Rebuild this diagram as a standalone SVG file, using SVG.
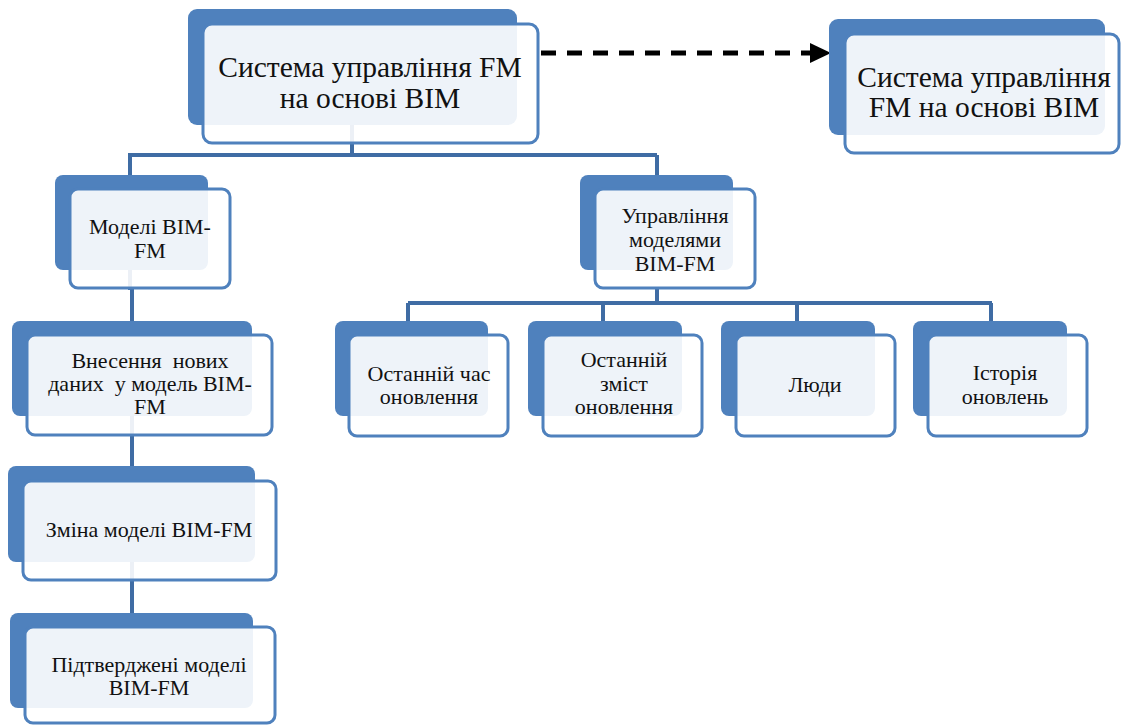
<svg xmlns="http://www.w3.org/2000/svg" width="1121" height="726" viewBox="0 0 1121 726" font-family="'Liberation Serif', 'Times New Roman', serif">
<defs>
<style>
.bk{fill:#4f81bd}
.fr{fill:#ffffff;fill-opacity:0.9;stroke:#4f81bd;stroke-width:3}
.ln{stroke:#3f6ca4;stroke-width:4;fill:none}
.t{fill:#111;text-anchor:middle;white-space:pre}
.big{font-size:29.5px}
.sm{font-size:22px}
</style>
</defs>
<rect width="1121" height="726" fill="#fff"/>
<g id="connectors">
<path class="ln" d="M352,125 V155 M128,155 H657 M130,155 V290 M657,155 V180 M132,288 V615 M657,288 V303 M408,303 H992 M408,303 V322 M603,303 V322 M797,303 V322 M991,303 V322"/>
<path d="M541,53 H812" stroke="#000" stroke-width="5" stroke-dasharray="15,11" fill="none"/>
<path d="M810,43 L831,53 L810,63 z" fill="#000"/>
</g>
<g id="n-main">
<rect class="bk" x="188" y="9" width="329" height="116" rx="9"/>
<rect class="fr" x="203" y="24" width="335" height="119" rx="9"/>
<text class="t big" x="370" y="77">Система управління FM</text>
<text class="t big" x="370" y="108">на основі BIM</text>
</g>
<g id="n-right">
<rect class="bk" x="829" y="19" width="276" height="116" rx="9"/>
<rect class="fr" x="845" y="34" width="274" height="119" rx="9"/>
<text class="t big" x="984" y="87">Система управління</text>
<text class="t big" x="984" y="117">FM на основі BIM</text>
</g>
<g id="n-models">
<rect class="bk" x="55" y="175" width="153" height="95" rx="8"/>
<rect class="fr" x="70" y="189" width="160" height="99" rx="8"/>
<text class="t sm" x="150" y="234">Моделі BIM-</text>
<text class="t sm" x="150" y="258">FM</text>
</g>
<g id="n-manage">
<rect class="bk" x="580" y="175" width="153" height="95" rx="8"/>
<rect class="fr" x="595" y="189" width="160" height="99" rx="8"/>
<text class="t sm" x="675" y="223">Управління</text>
<text class="t sm" x="675" y="247">моделями</text>
<text class="t sm" x="675" y="271">BIM-FM</text>
</g>
<g id="n-input">
<rect class="bk" x="12" y="321" width="240" height="95" rx="8"/>
<rect class="fr" x="27" y="335" width="245" height="100" rx="8"/>
<text class="t sm" x="150" y="368">Внесення  нових</text>
<text class="t sm" x="150" y="391">даних  у модель BIM-</text>
<text class="t sm" x="150" y="414">FM</text>
</g>
<g id="n-change">
<rect class="bk" x="8" y="466" width="247" height="96" rx="8"/>
<rect class="fr" x="23" y="481" width="253" height="99" rx="8"/>
<text class="t sm" x="149" y="537">Зміна моделі BIM-FM</text>
</g>
<g id="n-confirmed">
<rect class="bk" x="10" y="613" width="243" height="95" rx="8"/>
<rect class="fr" x="25" y="627" width="250" height="96" rx="8"/>
<text class="t sm" x="149" y="672">Підтверджені моделі</text>
<text class="t sm" x="149" y="695">BIM-FM</text>
</g>
<g id="n-lasttime">
<rect class="bk" x="335" y="321" width="153" height="95" rx="8"/>
<rect class="fr" x="349" y="335" width="159" height="101" rx="8"/>
<text class="t sm" x="429" y="381">Останній час</text>
<text class="t sm" x="429" y="404">оновлення</text>
</g>
<g id="n-lastcontent">
<rect class="bk" x="528" y="321" width="154" height="95" rx="8"/>
<rect class="fr" x="543" y="335" width="159" height="101" rx="8"/>
<text class="t sm" x="624" y="367">Останній</text>
<text class="t sm" x="624" y="391">зміст</text>
<text class="t sm" x="624" y="414">оновлення</text>
</g>
<g id="n-people">
<rect class="bk" x="721" y="321" width="154" height="95" rx="8"/>
<rect class="fr" x="736" y="335" width="159" height="101" rx="8"/>
<text class="t sm" x="815" y="392">Люди</text>
</g>
<g id="n-history">
<rect class="bk" x="913" y="321" width="154" height="95" rx="8"/>
<rect class="fr" x="928" y="335" width="159" height="101" rx="8"/>
<text class="t sm" x="1005" y="380">Історія</text>
<text class="t sm" x="1005" y="404">оновлень</text>
</g>
</svg>
